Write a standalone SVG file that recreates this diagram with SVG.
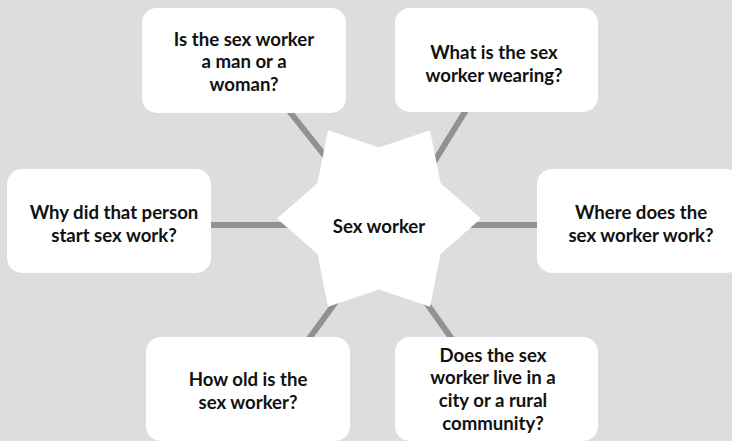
<svg xmlns="http://www.w3.org/2000/svg" width="732" height="441" viewBox="0 0 732 441">
  <style>
    .bg { fill: #dcdddf; }
    .link { stroke: #909193; stroke-width: 6; fill: none; }
    .box { fill: #ffffff; }
    .hub { fill: #ffffff; }
    .label { font-family: "Lato", "Open Sans", "DejaVu Sans", sans-serif; font-weight: bold; font-size: 18.6px; fill: #111111; text-anchor: middle; }
  </style>
  <rect class="bg" x="0" y="0" width="732" height="441"/>

  <!-- spokes from the central star out to each question -->
  <g id="connectors">
    <line class="link" x1="200" y1="225" x2="300" y2="225"/>
    <line class="link" x1="460" y1="225" x2="545" y2="225"/>
    <line class="link" x1="282" y1="102" x2="340" y2="175"/>
    <line class="link" x1="471" y1="102" x2="426" y2="175"/>
    <line class="link" x1="303" y1="347" x2="343" y2="292"/>
    <line class="link" x1="457" y1="346" x2="420" y2="294"/>
  </g>

  <g id="hub">
    <path class="hub" d="M277,218.5 L317.5,183 L328,130.2 L379,147.5 L430,130.2 L440.5,183 L481,218.5 L440.5,254 L430,306.8 L379,289.5 L328,306.8 L317.5,254 Z"/>
    <text class="label" x="379" y="232.5">Sex worker</text>
  </g>

  <g id="q-gender">
    <rect class="box" x="142" y="8" width="204" height="105" rx="15"/>
    <text class="label" x="244" y="45.5">Is the sex worker</text>
    <text class="label" x="244" y="68">a man or a</text>
    <text class="label" x="244" y="90.5">woman?</text>
  </g>

  <g id="q-wearing">
    <rect class="box" x="395" y="8" width="203" height="104" rx="15"/>
    <text class="label" x="494" y="59">What is the sex</text>
    <text class="label" x="494" y="81.5">worker wearing?</text>
  </g>

  <g id="q-why">
    <rect class="box" x="7" y="169" width="204" height="104" rx="15"/>
    <text class="label" x="114" y="218.5">Why did that person</text>
    <text class="label" x="114" y="241.5">start sex work?</text>
  </g>

  <g id="q-where">
    <rect class="box" x="537" y="169" width="204" height="104" rx="15"/>
    <text class="label" x="641" y="219">Where does the</text>
    <text class="label" x="641" y="241.5">sex worker work?</text>
  </g>

  <g id="q-age">
    <rect class="box" x="146" y="337" width="204" height="104" rx="15"/>
    <text class="label" x="248" y="386">How old is the</text>
    <text class="label" x="248" y="409">sex worker?</text>
  </g>

  <g id="q-location">
    <rect class="box" x="395" y="337" width="203" height="104" rx="15"/>
    <text class="label" x="493" y="361.5">Does the sex</text>
    <text class="label" x="493" y="384">worker live in a</text>
    <text class="label" x="493" y="407">city or a rural</text>
    <text class="label" x="493" y="430">community?</text>
  </g>
</svg>
